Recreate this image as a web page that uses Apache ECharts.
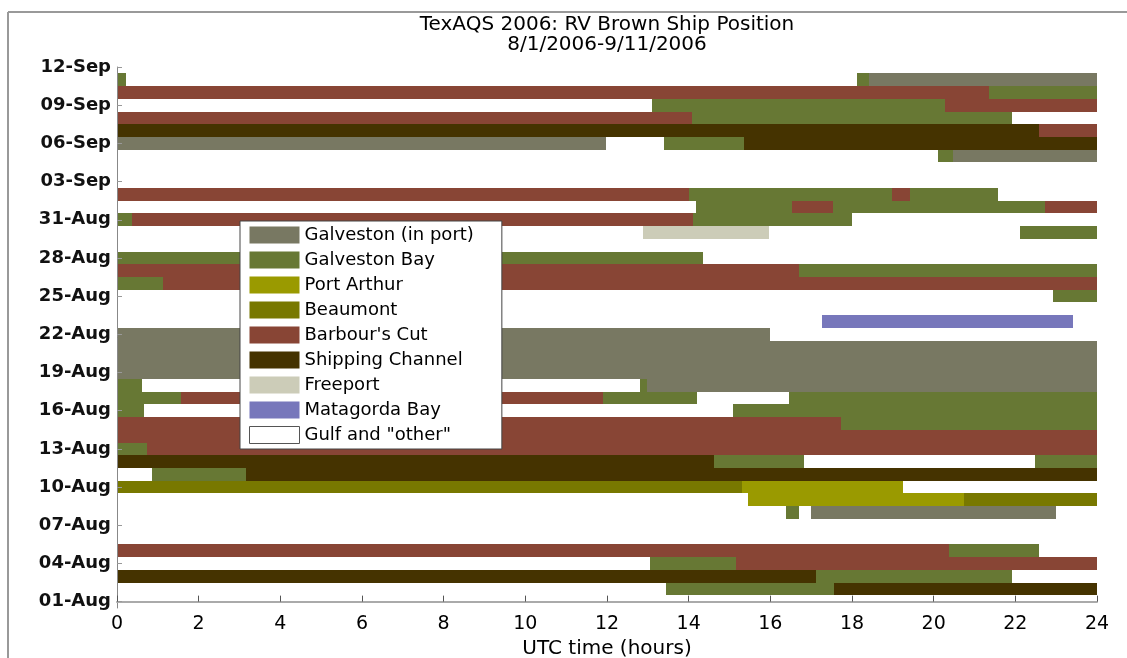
<!DOCTYPE html>
<html>
<head>
<meta charset="utf-8">
<script src="https://cdn.jsdelivr.net/npm/echarts@6/dist/echarts.min.js"></script>
<style>
html,body{margin:0;padding:0;background:#fff;}
#chart{width:1127px;height:658px;}
</style>
</head>
<body>
<div id="chart"></div>
<script>
// Day rows: value 0 = 01-Aug tick; each row is a day band [row-0.5, row+0.5]
const dayTickValues = [0,3,6,9,12,15,18,21,24,27,30,33,36,39,42];
const dayTickLabels = ['01-Aug','04-Aug','07-Aug','10-Aug','13-Aug','16-Aug','19-Aug','22-Aug','25-Aug','28-Aug','31-Aug','03-Sep','06-Sep','09-Sep','12-Sep'];
const hourTicks = [0,2,4,6,8,10,12,14,16,18,20,22,24];

// Segments: [row, startHour, endHour]
const galvestonPort = [[7,17.0,23.0],[17,12.98,24],[18,0,24],[19,0,24],[20,0,24],[21,0,16.0],[35,20.48,24],[36,0,11.98],[41,18.42,24]];
const galvestonBay = [[1,13.45,17.55],[2,17.12,21.92],[3,13.05,15.16],[4,20.38,22.57],[7,16.38,16.7],[10,0.85,3.16],[11,14.62,16.82],[11,22.48,24],[12,0,0.73],[14,17.72,24],[15,0,0.67],[15,15.09,24],[16,0,1.57],[16,11.9,14.2],[16,16.45,24],[17,0,0.6],[17,12.81,12.98],[24,22.93,24],[25,0,1.13],[26,16.69,24],[27,0,14.36],[29,22.11,24],[30,0,0.37],[30,14.11,18.0],[31,14.17,16.52],[31,17.53,22.73],[32,14.0,18.97],[32,19.42,21.58],[35,20.11,20.48],[36,13.4,15.36],[38,14.07,21.91],[39,13.1,20.28],[40,21.36,24],[41,0,0.21],[41,18.12,18.42]];
const portArthur = [[8,15.46,20.74],[9,15.3,19.26]];
const beaumont = [[8,20.74,24],[9,0,15.3]];
const barboursCut = [[3,15.16,24],[4,0,20.38],[12,0.73,24],[13,0,24],[14,0,17.72],[16,1.57,11.9],[25,1.13,24],[26,0,16.69],[30,0.37,14.11],[31,16.52,17.53],[31,22.73,24],[32,0,14.0],[32,18.97,19.42],[37,22.58,24],[38,0,14.07],[39,20.28,24],[40,0,21.36]];
const shippingChannel = [[1,17.55,24],[2,0,17.12],[10,3.16,24],[11,0,14.62],[36,15.36,24],[37,0,22.58]];
const freeport = [[29,12.88,15.97]];
const matagordaBay = [[22,17.26,23.42]];
const gulfOther = [[1,0,13.45],[2,21.92,24],[3,0,13.05],[4,22.57,24],[5,0,24],[6,0,24],[7,0,16.38],[7,16.7,17.0],[7,23.0,24],[8,0,15.46],[9,19.26,24],[10,0,0.85],[11,16.82,22.48],[15,0.67,15.09],[16,14.2,16.45],[17,0.6,12.81],[21,16.0,24],[22,0,17.26],[22,23.42,24],[23,0,24],[24,0,22.93],[27,14.36,24],[28,0,24],[29,0,12.88],[29,15.97,22.11],[30,18.0,24],[31,0,14.17],[32,21.58,24],[33,0,24],[34,0,24],[35,0,20.11],[36,11.98,13.4],[38,21.91,24],[39,0,13.1],[41,0.21,18.12]];

const seriesDefs = [
  {name:'Galveston (in port)', data:galvestonPort, color:'#787862'},
  {name:'Galveston Bay', data:galvestonBay, color:'#677834'},
  {name:'Port Arthur', data:portArthur, color:'#9a9a00'},
  {name:'Beaumont', data:beaumont, color:'#787800'},
  {name:"Barbour's Cut", data:barboursCut, color:'#884535'},
  {name:'Shipping Channel', data:shippingChannel, color:'#453300'},
  {name:'Freeport', data:freeport, color:'#ccccb8'},
  {name:'Matagorda Bay', data:matagordaBay, color:'#7777bb'},
  {name:'Gulf and "other"', data:gulfOther, color:'#ffffff'}
];

const FONT = 'DejaVu Sans';

function renderItem(params, api){
  const row = api.value(0), s = api.value(1), e = api.value(2);
  const p0 = api.coord([s, row + 0.5]);
  const p1 = api.coord([e, row - 0.5]);
  const x0 = Math.round(p0[0]), x1 = Math.round(p1[0]);
  const y0 = Math.round(p0[1]), y1 = Math.round(p1[1]);
  return {
    type:'rect',
    shape:{x:x0, y:y0, width:x1-x0, height:y1-y0},
    style: api.style({lineWidth:0})
  };
}

const chart = echarts.init(document.getElementById('chart'));
chart.setOption({
  animation:false,
  backgroundColor:'#fff',
  grid:{left:117, right:30, top:67, bottom:50, containLabel:false, outerBoundsMode:'none'},
  xAxis:{
    type:'value', min:0, max:24, interval:2, z:5,
    name:'UTC time (hours)', nameLocation:'middle', nameGap:18,
    nameTextStyle:{fontFamily:FONT, fontSize:20, color:'#000', verticalAlign:'top'},
    axisLine:{show:true, lineStyle:{color:'#aaaaaa', width:2}},
    axisTick:{show:true, inside:true, length:6, lineStyle:{color:'#555', width:1}},
    axisLabel:{fontFamily:FONT, fontSize:19, color:'#000', margin:7},
    splitLine:{show:false}
  },
  yAxis:{
    type:'value', min:-0.5, max:42, z:5,
    axisLine:{show:true, lineStyle:{color:'#888', width:1}},
    axisTick:{show:true, inside:true, length:5, customValues:dayTickValues, lineStyle:{color:'#999', width:1}},
    axisLabel:{fontFamily:FONT, fontSize:18, fontWeight:'bold', color:'#111', margin:6, customValues:dayTickValues,
      formatter:function(v){ const i = dayTickValues.indexOf(v); return i>=0 ? dayTickLabels[i] : ''; }},
    splitLine:{show:false}
  },
  legend:{
    orient:'vertical', left:240, top:221,
    backgroundColor:'#fff', borderColor:'#444', borderWidth:1,
    padding:[5,28,5,9], itemWidth:50, itemHeight:17, itemGap:7,
    icon:'rect',
    textStyle:{fontFamily:FONT, fontSize:18, color:'#000', lineHeight:18},
    data: seriesDefs.map(d => d.color === '#ffffff'
      ? {name:d.name, itemStyle:{color:'#fff', borderColor:'#555', borderWidth:1}}
      : {name:d.name, itemStyle:{color:d.color, borderWidth:0}}),
    z:10
  },
  graphic:[
    {type:'line', shape:{x1:8, y1:12, x2:1127, y2:12}, style:{stroke:'#999', lineWidth:2}, silent:true},
    {type:'line', shape:{x1:8, y1:12, x2:8, y2:658}, style:{stroke:'#999', lineWidth:2}, silent:true},
    {type:'text', x:607, y:25, style:{text:'TexAQS 2006: RV Brown Ship Position', font:'20px "DejaVu Sans"', fill:'#000', textAlign:'center', textVerticalAlign:'middle'}},
    {type:'text', x:607, y:45, style:{text:'8/1/2006-9/11/2006', font:'20px "DejaVu Sans"', fill:'#000', textAlign:'center', textVerticalAlign:'middle'}}
  ],
  series: seriesDefs.map(d => ({
    type:'custom', name:d.name, renderItem:renderItem,
    itemStyle:{color:d.color},
    encode:{x:[1,2], y:0},
    data:d.data,
    z: d.color === '#ffffff' ? 1 : 2
  }))
});
</script>
</body>
</html>
